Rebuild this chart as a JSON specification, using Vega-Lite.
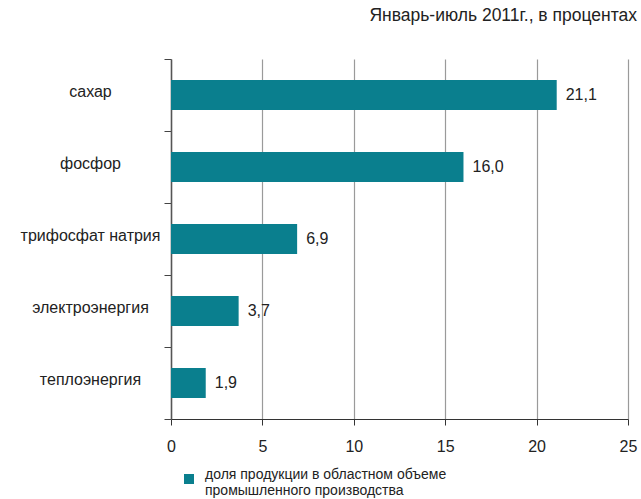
{
  "$schema": "https://vega.github.io/schema/vega-lite/v6.json",
  "width": 457,
  "height": 360,
  "autosize": "none",
  "padding": {"left": 171, "top": 59, "right": 13, "bottom": 80},
  "background": "white",
  "config": {
    "view": {"stroke": null},
    "font": "Liberation Sans",
    "locale": {"number": {"decimal": ",", "thousands": " ", "grouping": [3], "currency": ["", " ₽"]}}
  },
  "title": {
    "text": "Январь-июль 2011г., в процентах",
    "anchor": "end",
    "frame": "group",
    "font": "Liberation Sans",
    "fontSize": 17.5,
    "fontWeight": "normal",
    "color": "#222222",
    "offset": 27,
    "dx": 9
  },
  "data": {
    "values": [
      {"product": "сахар", "value": 21.1, "series": "доля продукции в областном объеме|промышленного производства"},
      {"product": "фосфор", "value": 16.0, "series": "доля продукции в областном объеме|промышленного производства"},
      {"product": "трифосфат натрия", "value": 6.9, "series": "доля продукции в областном объеме|промышленного производства"},
      {"product": "электроэнергия", "value": 3.7, "series": "доля продукции в областном объеме|промышленного производства"},
      {"product": "теплоэнергия", "value": 1.9, "series": "доля продукции в областном объеме|промышленного производства"}
    ]
  },
  "encoding": {
    "y": {
      "field": "product",
      "type": "nominal",
      "sort": null,
      "scale": {"paddingInner": 0, "paddingOuter": 0},
      "axis": {
        "title": null,
        "tickBand": "extent",
        "tickSize": 7,
        "tickColor": "#444444",
        "domainColor": "#555555",
        "domainWidth": 1.5,
        "labelAlign": "center",
        "labelBaseline": "middle",
        "labelPadding": 74,
        "labelOffset": -4,
        "labelFont": "Liberation Sans",
        "labelFontSize": 16,
        "labelColor": "#222222",
        "grid": false
      }
    },
    "x": {
      "field": "value",
      "type": "quantitative",
      "scale": {"domain": [0, 25], "nice": false},
      "axis": {
        "title": null,
        "values": [0, 5, 10, 15, 20, 25],
        "grid": true,
        "gridColor": "#9a9a9a",
        "gridWidth": 1.2,
        "domainColor": "#333333",
        "domainWidth": 1.2,
        "tickColor": "#333333",
        "tickSize": 6,
        "labelPadding": 13,
        "labelFont": "Liberation Sans",
        "labelFontSize": 16,
        "labelColor": "#222222",
        "labelFlush": false
      }
    }
  },
  "layer": [
    {
      "mark": {"type": "bar", "height": {"band": 0.42}},
      "encoding": {
        "color": {
          "field": "series",
          "type": "nominal",
          "scale": {"range": ["#0a7f8e"]},
          "legend": {
            "title": null,
            "orient": "none",
            "legendX": 11,
            "legendY": 413,
            "padding": 0,
            "symbolType": "square",
            "symbolSize": 100,
            "symbolStrokeWidth": 0,
            "labelOffset": 9,
            "labelFont": "Liberation Sans",
            "labelFontSize": 14,
            "labelColor": "#222222",
            "labelLimit": 400,
            "labelBaseline": "alphabetic",
            "labelExpr": "split(datum.label, '|')"
          }
        }
      }
    },
    {
      "mark": {"type": "text", "align": "left", "baseline": "middle", "dx": 9, "font": "Liberation Sans", "fontSize": 16, "color": "#222222"},
      "encoding": {
        "text": {"field": "value", "type": "quantitative", "format": ".1f"}
      }
    }
  ]
}
